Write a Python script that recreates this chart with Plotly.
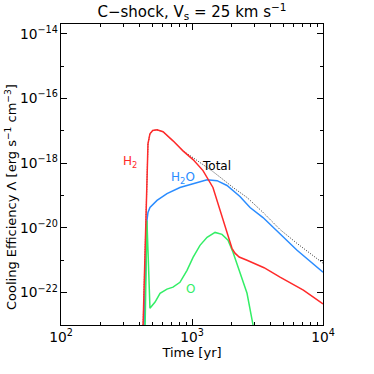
import plotly.graph_objects as go

# log10(time [yr]) and log10(cooling efficiency)
h2_logt = [2.620, 2.626, 2.641, 2.649, 2.656, 2.664, 2.679, 2.700, 2.733, 2.779, 2.855, 2.931, 3.008,
           3.084, 3.160, 3.237, 3.305, 3.328, 3.360, 3.420, 3.550, 3.672, 3.850, 4.0]
h2_logL = [-24.0, -23.0, -20.69, -19.68, -18.14, -17.40, -17.09, -16.99, -16.97, -17.03, -17.31, -17.62, -17.89,
           -18.23, -18.75, -19.77, -20.63, -20.78, -20.90, -21.0, -21.23, -21.52, -21.92, -22.35]

h2o_logt = [2.630, 2.634, 2.649, 2.656, 2.664, 2.679, 2.733, 2.809, 2.908, 3.008, 3.115, 3.191,
            3.267, 3.366, 3.443, 3.542, 3.672, 3.802, 4.0]
h2o_logL = [-24.0, -23.0, -21.0, -19.77, -19.52, -19.37, -19.15, -18.94, -18.75, -18.63, -18.51, -18.54,
            -18.69, -19.03, -19.37, -19.68, -20.17, -20.69, -21.37]

o_logt = [2.638, 2.641, 2.649, 2.656, 2.664, 2.672, 2.679, 2.718, 2.756, 2.809, 2.855, 2.908, 2.962,
          3.008, 3.061, 3.115, 3.176, 3.229, 3.275, 3.313, 3.366, 3.420, 3.466, 3.481]
o_logL = [-24.0, -23.3, -21.6, -19.77, -20.69, -21.92, -22.48, -22.29, -22.02, -21.89, -21.83, -21.68, -21.31,
          -20.91, -20.54, -20.29, -20.14, -20.20, -20.38, -20.75, -21.37, -22.02, -23.0, -23.5]

tot_logt = [2.620, 2.626, 2.641, 2.649, 2.656, 2.664, 2.679, 2.700, 2.733, 2.779, 2.855, 2.931, 3.008,
            3.061, 3.160, 3.267, 3.313, 3.420, 3.542, 3.672, 3.802, 4.0]
tot_logL = [-24.0, -23.0, -20.69, -19.68, -18.14, -17.40, -17.09, -16.99, -16.97, -17.03, -17.31, -17.62, -17.83,
            -17.98, -18.26, -18.60, -18.75, -19.06, -19.52, -20.05, -20.48, -21.09]

def lin(v):
    return [10 ** a for a in v]

RED = "#ff2a2a"
BLUE = "#2a8cff"
GREEN = "#33ee66"
FONT = "DejaVu Sans"

fig = go.Figure()
fig.add_trace(go.Scatter(x=lin(tot_logt), y=lin(tot_logL), mode="lines",
                         line=dict(color="#333333", width=1, dash="1px,1.5px"), name="Total"))
fig.add_trace(go.Scatter(x=lin(h2o_logt), y=lin(h2o_logL), mode="lines",
                         line=dict(color=BLUE, width=1.5), name="H2O"))
fig.add_trace(go.Scatter(x=lin(o_logt), y=lin(o_logL), mode="lines",
                         line=dict(color=GREEN, width=1.5), name="O"))
fig.add_trace(go.Scatter(x=lin(h2_logt), y=lin(h2_logL), mode="lines",
                         line=dict(color=RED, width=1.5), name="H2"))

ann = [
    ("H<sub>2</sub>", 2.527, -17.96, RED),
    ("H<sub>2</sub>O", 2.93, -18.45, BLUE),
    ("Total", 3.19, -18.1, "black"),
    ("O", 2.985, -21.88, GREEN),
]
for txt, ax_, ay_, c in ann:
    fig.add_annotation(x=ax_, y=ay_, xref="x", yref="y", text=txt, showarrow=False,
                       font=dict(color=c, size=12, family=FONT))

# y-axis title (placed as rotated annotation to match the original's offset)
fig.add_annotation(x=(11 - 61) / 262, y=(325 - 197) / 301, xref="paper", yref="paper",
                   text="Cooling Efficiency \u039b [erg s<sup>\u22121</sup> cm<sup>\u22123</sup>]",
                   textangle=-90, showarrow=False, xanchor="center", yanchor="middle",
                   font=dict(size=13, family=FONT, color="black"))

fig.update_layout(
    width=374, height=374,
    margin=dict(l=61, r=51, t=24, b=49, autoexpand=False),
    paper_bgcolor="white", plot_bgcolor="white",
    showlegend=False,
    font=dict(family=FONT, size=12, color="black"),
    title=dict(text="C\u2212shock, V<sub>s</sub> = 25 km s<sup>\u22121</sup>",
               x=(61 + 323) / 2 / 374, xanchor="center", y=1 - 12 / 374, yanchor="middle",
               font=dict(size=15, family=FONT)),
)
fig.update_xaxes(type="log", range=[2, 4], dtick=1, exponentformat="power", showexponent="all",
                 automargin=False,
                 showline=True, linecolor="black", linewidth=1, mirror="ticks",
                 ticks="inside", ticklen=6, tickcolor="black", showgrid=False, zeroline=False,
                 minor=dict(ticks="inside", ticklen=3, tickcolor="black", dtick="D1", showgrid=False),
                 title=dict(text="Time [yr]", standoff=2, font=dict(size=13)),
                 tickfont=dict(size=11))
fig.update_yaxes(type="log", range=[-23, -13.7], dtick=2, exponentformat="power", showexponent="all",
                 automargin=False,
                 showline=True, linecolor="black", linewidth=1, mirror="ticks",
                 ticks="inside", ticklen=6, tickcolor="black", showgrid=False, zeroline=False,
                 minor=dict(ticks="inside", ticklen=3, tickcolor="black", dtick=1, showgrid=False),
                 tickfont=dict(size=11))

fig.write_html("out.html", config={"displayModeBar": False},
               post_script="document.body.style.margin='0';document.body.style.overflow='hidden';")
